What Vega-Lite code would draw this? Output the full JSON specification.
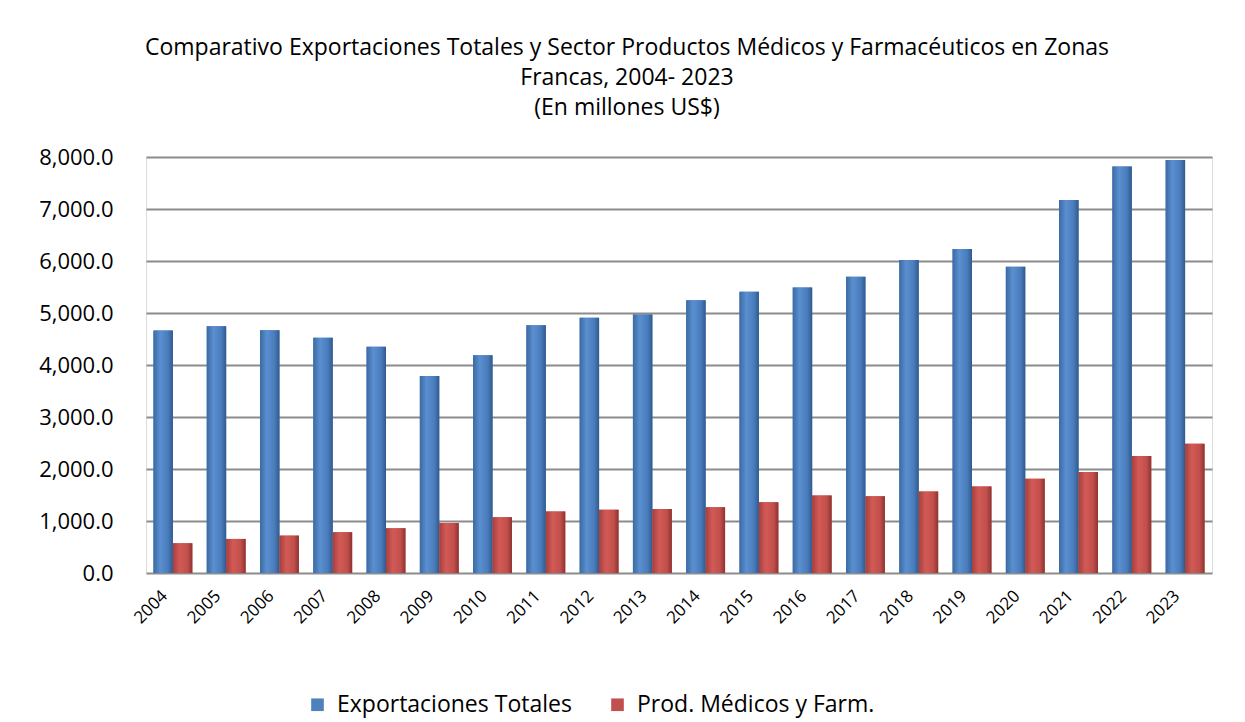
{
  "$schema": "https://vega.github.io/schema/vega-lite/v6.json",
  "width": 1066,
  "height": 416,
  "autosize": {"type": "none"},
  "padding": {"left": 146, "top": 157, "right": 33, "bottom": 149},
  "background": "white",
  "title": {
    "text": ["Comparativo Exportaciones Totales y Sector Productos Médicos y Farmacéuticos en Zonas", "Francas, 2004- 2023", "(En millones US$)"],
    "fontSize": 23,
    "font": "Open Sans",
    "fontWeight": "normal",
    "color": "#000000",
    "lineHeight": 30,
    "dx": -52,
    "offset": 26,
    "anchor": "middle"
  },
  "data": {
    "values": [
      {"year": "2004", "series": "Exportaciones Totales", "value": 4665},
      {"year": "2005", "series": "Exportaciones Totales", "value": 4745},
      {"year": "2006", "series": "Exportaciones Totales", "value": 4668},
      {"year": "2007", "series": "Exportaciones Totales", "value": 4522},
      {"year": "2008", "series": "Exportaciones Totales", "value": 4349},
      {"year": "2009", "series": "Exportaciones Totales", "value": 3790},
      {"year": "2010", "series": "Exportaciones Totales", "value": 4187},
      {"year": "2011", "series": "Exportaciones Totales", "value": 4765},
      {"year": "2012", "series": "Exportaciones Totales", "value": 4907},
      {"year": "2013", "series": "Exportaciones Totales", "value": 4971},
      {"year": "2014", "series": "Exportaciones Totales", "value": 5247},
      {"year": "2015", "series": "Exportaciones Totales", "value": 5408},
      {"year": "2016", "series": "Exportaciones Totales", "value": 5491},
      {"year": "2017", "series": "Exportaciones Totales", "value": 5697},
      {"year": "2018", "series": "Exportaciones Totales", "value": 6017},
      {"year": "2019", "series": "Exportaciones Totales", "value": 6229},
      {"year": "2020", "series": "Exportaciones Totales", "value": 5890},
      {"year": "2021", "series": "Exportaciones Totales", "value": 7173},
      {"year": "2022", "series": "Exportaciones Totales", "value": 7817},
      {"year": "2023", "series": "Exportaciones Totales", "value": 7944},
      {"year": "2004", "series": "Prod. Médicos y Farm.", "value": 572},
      {"year": "2005", "series": "Prod. Médicos y Farm.", "value": 655},
      {"year": "2006", "series": "Prod. Médicos y Farm.", "value": 719},
      {"year": "2007", "series": "Prod. Médicos y Farm.", "value": 784},
      {"year": "2008", "series": "Prod. Médicos y Farm.", "value": 861},
      {"year": "2009", "series": "Prod. Médicos y Farm.", "value": 963},
      {"year": "2010", "series": "Prod. Médicos y Farm.", "value": 1073},
      {"year": "2011", "series": "Prod. Médicos y Farm.", "value": 1181},
      {"year": "2012", "series": "Prod. Médicos y Farm.", "value": 1214},
      {"year": "2013", "series": "Prod. Médicos y Farm.", "value": 1233},
      {"year": "2014", "series": "Prod. Médicos y Farm.", "value": 1266},
      {"year": "2015", "series": "Prod. Médicos y Farm.", "value": 1362},
      {"year": "2016", "series": "Prod. Médicos y Farm.", "value": 1489},
      {"year": "2017", "series": "Prod. Médicos y Farm.", "value": 1478},
      {"year": "2018", "series": "Prod. Médicos y Farm.", "value": 1567},
      {"year": "2019", "series": "Prod. Médicos y Farm.", "value": 1663},
      {"year": "2020", "series": "Prod. Médicos y Farm.", "value": 1811},
      {"year": "2021", "series": "Prod. Médicos y Farm.", "value": 1940},
      {"year": "2022", "series": "Prod. Médicos y Farm.", "value": 2248},
      {"year": "2023", "series": "Prod. Médicos y Farm.", "value": 2486}
    ]
  },
  "encoding": {
    "x": {
      "field": "year",
      "type": "nominal",
      "title": null,
      "scale": {"paddingInner": 0.27, "paddingOuter": 0.14},
      "axis": {
        "labelAngle": -45,
        "labelAlign": "right",
        "labelBaseline": "middle",
        "labelFontSize": 17,
        "labelFont": "Open Sans",
        "labelColor": "#000000",
        "labelPadding": 20,
        "labelOffset": -8,
        "domain": false,
        "ticks": false
      }
    },
    "xOffset": {"field": "series", "type": "nominal", "scale": {"paddingInner": 0, "paddingOuter": 0}},
    "y": {
      "field": "value",
      "type": "quantitative",
      "title": null,
      "scale": {"domain": [0, 8000]},
      "axis": {
        "values": [0, 1000, 2000, 3000, 4000, 5000, 6000, 7000, 8000],
        "format": ",.1f",
        "labelFontSize": 22,
        "labelFont": "Open Sans",
        "labelColor": "#000000",
        "labelPadding": 33,
        "domain": false,
        "ticks": false,
        "grid": true,
        "gridColor": "#8c8c8c",
        "gridWidth": 2
      }
    }
  },
  "layer": [
    {
      "mark": {"type": "bar", "cornerRadiusTop": 4},
      "encoding": {
        "color": {
          "field": "series",
          "type": "nominal",
          "title": null,
          "scale": {"domain": ["Exportaciones Totales", "Prod. Médicos y Farm."], "range": ["#4f81bd", "#c0504d"]},
          "legend": {
            "orient": "none",
            "legendX": 160,
            "legendY": 536,
            "direction": "horizontal",
            "symbolType": "square",
            "symbolSize": 160,
            "symbolStrokeWidth": 0,
            "labelFontSize": 23,
            "labelFont": "Open Sans",
            "labelColor": "#000000",
            "labelLimit": 0,
            "columnPadding": 34,
            "labelOffset": 8
          }
        }
      }
    },
    {
      "transform": [{"filter": "datum.series == 'Exportaciones Totales'"}],
      "mark": {
        "type": "bar",
        "cornerRadiusTop": 4,
        "color": {"gradient": "linear", "x1": 0, "x2": 1, "y1": 0, "y2": 0,
          "stops": [{"offset": 0, "color": "#3b6aa3"}, {"offset": 0.35, "color": "#5a8fd0"}, {"offset": 0.75, "color": "#4a7cbb"}, {"offset": 1, "color": "#2f5a8e"}]}
      }
    },
    {
      "transform": [{"filter": "datum.series == 'Prod. Médicos y Farm.'"}],
      "mark": {
        "type": "bar",
        "cornerRadiusTop": 4,
        "color": {"gradient": "linear", "x1": 0, "x2": 1, "y1": 0, "y2": 0,
          "stops": [{"offset": 0, "color": "#a63f3c"}, {"offset": 0.35, "color": "#d25a56"}, {"offset": 0.75, "color": "#c14f4b"}, {"offset": 1, "color": "#8e3331"}]}
      }
    }
  ]
}
